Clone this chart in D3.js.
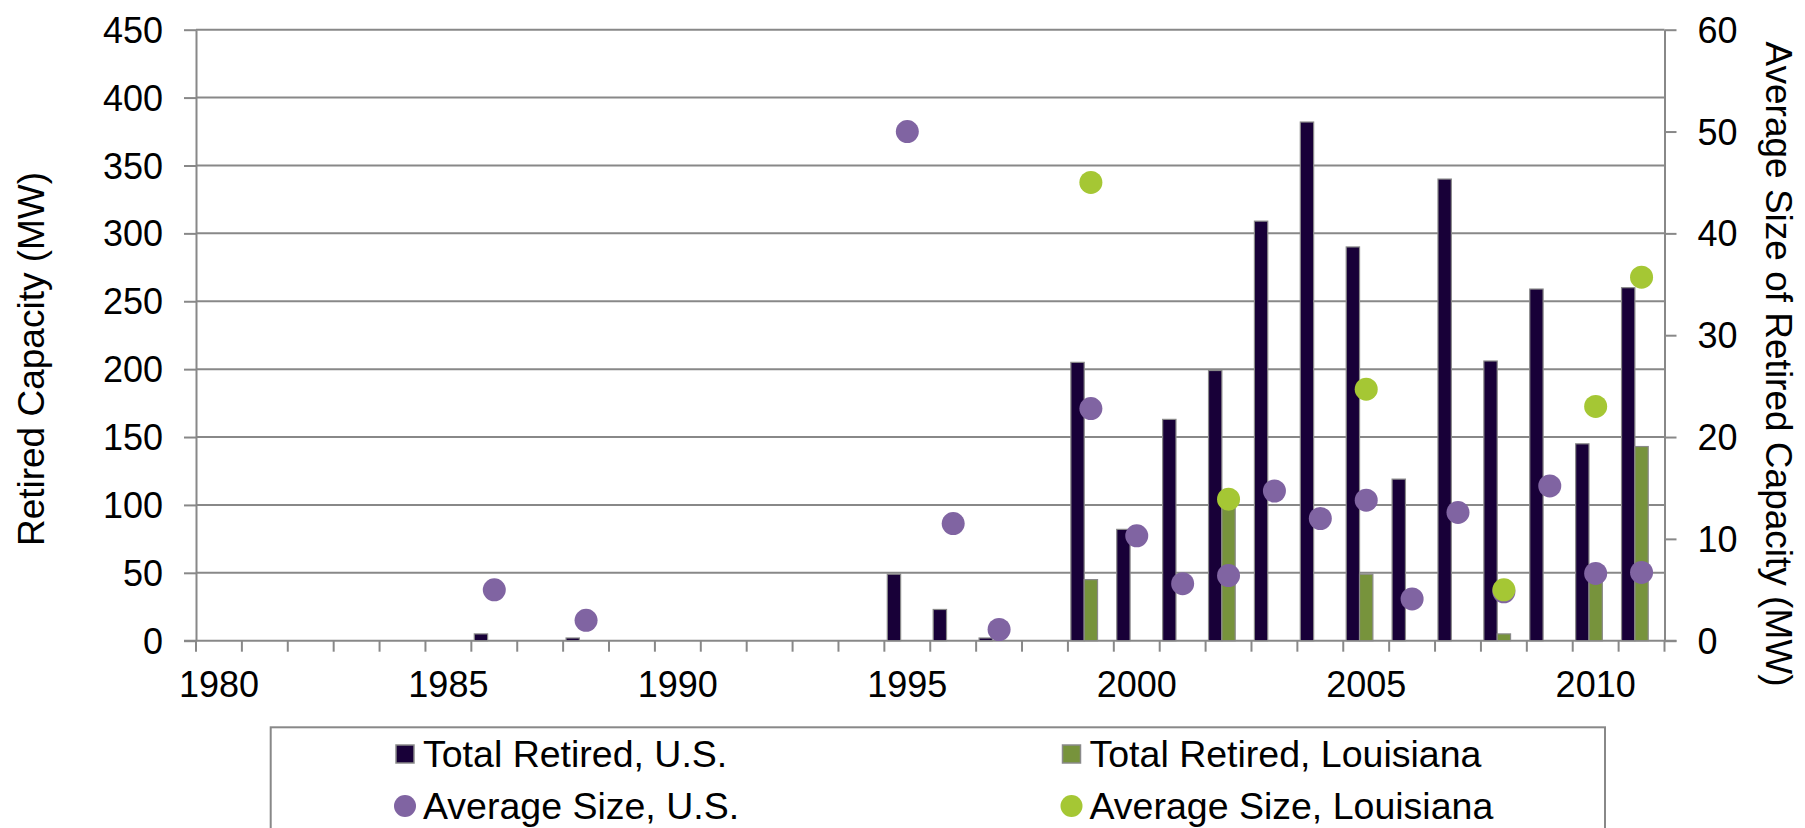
<!DOCTYPE html>
<html>
<head>
<meta charset="utf-8">
<script src="https://cdn.jsdelivr.net/npm/d3@7"></script>
<style>
  body { margin: 0; background: #fff; }
  svg text { font-family: "Liberation Sans", Arial, sans-serif; fill: #000; }
</style>
</head>
<body>
<svg id="chart" width="1805" height="828"></svg>
<script>
/* Retired capacity by year: bars on the left axis (MW total),
   dots on the right axis (average size of a retired unit). */

const years = d3.range(1980, 2012);
const labelYears = [1980, 1985, 1990, 1995, 2000, 2005, 2010];

// Total Retired, U.S. (MW)
const usTotalYears = [1986, 1988, 1995, 1996, 1997, 1999, 2000, 2001, 2002, 2003, 2004, 2005, 2006, 2007, 2008, 2009, 2010, 2011];
const usTotal      = [5,    2,    49,   23,   2,    205,  82,   163,  199,  309,  382,  290,  119,  340,  206,  259,  145,  260];

// Total Retired, Louisiana (MW)
const laTotalYears = [1999, 2002, 2005, 2008, 2010, 2011];
const laTotal      = [45,   98,   49,   5,    46,   143];

// Average Size, U.S. (MW)
const usAvgYears = [1986, 1988, 1995, 1996, 1997, 1999, 2000, 2001, 2002, 2003, 2004, 2005, 2006, 2007, 2008, 2009, 2010, 2011];
const usAvg      = [5.0,  2.0,  50.0, 11.5, 1.1,  22.8, 10.3, 5.6,  6.4,  14.7, 12.0, 13.8, 4.1,  12.6, 4.8,  15.2, 6.6,  6.7];

// Average Size, Louisiana (MW)
const laAvgYears = [1999, 2002, 2005, 2008, 2010, 2011];
const laAvg      = [45.0, 13.9, 24.7, 5.0,  23.0, 35.7];

const leftTicks = [0, 50, 100, 150, 200, 250, 300, 350, 400, 450];
const rightTicks = [0, 10, 20, 30, 40, 50, 60];

const COLORS = {
    usBar: '#180038',
    laBar: '#77933C',
    usDot: '#8064A2',
    laDot: '#A5C734',
    axis: '#888888'
};
const FONT = 36;

/* Plot geometry */
const X0 = 196, X1 = 1664.5, Y0 = 29.7, Y1 = 640.7;

const svg = d3.select('#chart');

const x = d3.scaleBand().domain(years).range([X0, X1]).padding(0);
// three slots per year, the third one stays empty (as in the original chart)
const xSub = d3.scaleBand().domain([0, 1, 2]).range([0, x.bandwidth()]).paddingInner(0).paddingOuter(0.22);
const yL = d3.scaleLinear().domain([0, 450]).range([Y1, Y0]);
const yR = d3.scaleLinear().domain([0, 60]).range([Y1, Y0]);

function pairs(ys, vs) {
    return ys.map((y, i) => ({year: y, value: vs[i]}));
}

/* gridlines */
svg.append('g')
    .selectAll('line')
    .data(leftTicks.filter(d => d > 0))
    .join('line')
    .attr('x1', X0).attr('x2', X1)
    .attr('y1', d => yL(d)).attr('y2', d => yL(d))
    .attr('stroke', COLORS.axis)
    .attr('stroke-width', 2);

/* left axis */
const leftAxis = svg.append('g')
    .attr('transform', `translate(${X0},0)`)
    .call(d3.axisLeft(yL).tickValues(leftTicks).tickSize(12).tickPadding(21).tickSizeOuter(0));
leftAxis.selectAll('text').attr('font-size', FONT).attr('dy', '0.35em');

/* right axis */
const rightAxis = svg.append('g')
    .attr('transform', `translate(${X1},0)`)
    .call(d3.axisRight(yR).tickValues(rightTicks).tickSize(12).tickPadding(21).tickSizeOuter(0));
rightAxis.selectAll('text').attr('font-size', FONT).attr('dy', '0.35em');

/* bottom axis: tick marks at every category boundary, labels every 5 years */
svg.append('g')
    .selectAll('line')
    .data(years.concat([2012]))
    .join('line')
    .attr('x1', d => d === 2012 ? X1 : x(d))
    .attr('x2', d => d === 2012 ? X1 : x(d))
    .attr('y1', Y1).attr('y2', Y1 + 11)
    .attr('stroke', COLORS.axis)
    .attr('stroke-width', 2);

const bottomAxis = svg.append('g')
    .attr('transform', `translate(0,${Y1})`)
    .call(d3.axisBottom(x).tickValues(labelYears).tickSize(0).tickPadding(31));
bottomAxis.selectAll('text').attr('font-size', FONT);
bottomAxis.select('.domain').remove();

svg.selectAll('.domain').attr('stroke', COLORS.axis).attr('stroke-width', 2);
svg.selectAll('.tick line').attr('stroke', COLORS.axis).attr('stroke-width', 2);

svg.append('line')
    .attr('x1', X0 - 12).attr('x2', X1 + 12)
    .attr('y1', Y1).attr('y2', Y1)
    .attr('stroke', COLORS.axis)
    .attr('stroke-width', 2);

/* bars */
function drawBars(data, slot, color) {
    svg.append('g')
        .selectAll('rect')
        .data(data)
        .join('rect')
        .attr('x', d => x(d.year) + xSub(slot))
        .attr('y', d => yL(d.value))
        .attr('width', xSub.bandwidth())
        .attr('height', d => Y1 - yL(d.value))
        .attr('fill', color)
        .attr('stroke', '#8a8a8a')
        .attr('stroke-width', 1.2);
}
drawBars(pairs(usTotalYears, usTotal), 0, COLORS.usBar);
drawBars(pairs(laTotalYears, laTotal), 1, COLORS.laBar);

/* dots */
function drawDots(data, color) {
    svg.append('g')
        .selectAll('circle')
        .data(data)
        .join('circle')
        .attr('cx', d => x(d.year) + x.bandwidth() / 2)
        .attr('cy', d => yR(d.value))
        .attr('r', 11.5)
        .attr('fill', color);
}
drawDots(pairs(usAvgYears, usAvg), COLORS.usDot);
drawDots(pairs(laAvgYears, laAvg), COLORS.laDot);

/* axis titles */
svg.append('text')
    .attr('transform', 'translate(44,359) rotate(-90)')
    .attr('text-anchor', 'middle')
    .attr('font-size', 37)
    .text('Retired Capacity (MW)');

svg.append('text')
    .attr('transform', 'translate(1766,364) rotate(90)')
    .attr('text-anchor', 'middle')
    .attr('font-size', 37)
    .text('Average Size of Retired Capacity (MW)');

/* legend */
const legend = svg.append('g');
legend.append('rect')
    .attr('x', 270.7).attr('y', 727.3)
    .attr('width', 1334.3).attr('height', 200)
    .attr('fill', 'none')
    .attr('stroke', COLORS.axis)
    .attr('stroke-width', 2);

const legendItems = [
    {label: 'Total Retired, U.S.', color: COLORS.usBar, shape: 'square', col: 0, row: 0},
    {label: 'Total Retired, Louisiana', color: COLORS.laBar, shape: 'square', col: 1, row: 0},
    {label: 'Average Size, U.S.', color: COLORS.usDot, shape: 'circle', col: 0, row: 1},
    {label: 'Average Size, Louisiana', color: COLORS.laDot, shape: 'circle', col: 1, row: 1}
];
const colX = [405, 1071.5];
const rowY = [754, 806];

legendItems.forEach(item => {
    const cx = colX[item.col], cy = rowY[item.row];
    if (item.shape === 'square') {
        legend.append('rect')
            .attr('x', cx - 9).attr('y', cy - 9)
            .attr('width', 18).attr('height', 18)
            .attr('fill', item.color)
            .attr('stroke', '#8a8a8a')
            .attr('stroke-width', 1.5);
    } else {
        legend.append('circle')
            .attr('cx', cx).attr('cy', cy)
            .attr('r', 11)
            .attr('fill', item.color);
    }
    legend.append('text')
        .attr('x', cx + 18)
        .attr('y', cy + 12.5)
        .attr('font-size', 37.5)
        .text(item.label);
});
</script>
</body>
</html>
